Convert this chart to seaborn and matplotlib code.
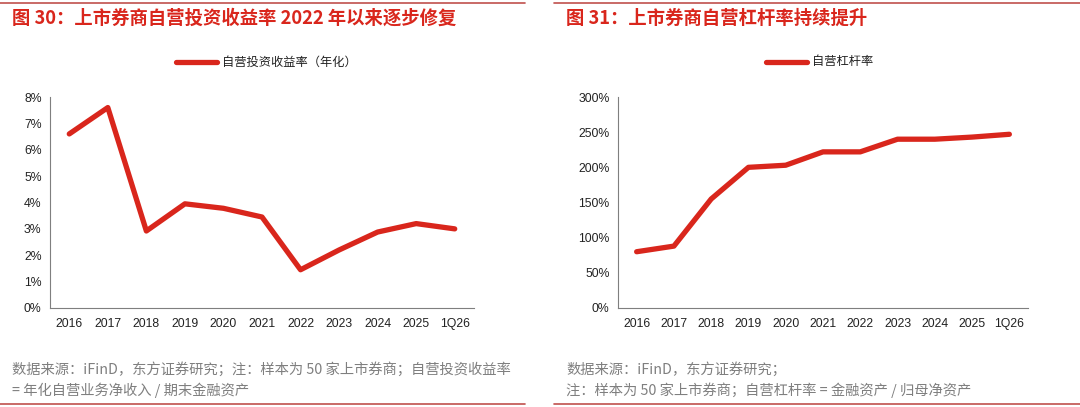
import numpy as np
import pandas as pd
import matplotlib
matplotlib.use('Agg')
import matplotlib.pyplot as plt
import seaborn as sns
from matplotlib.lines import Line2D
from matplotlib.ticker import FuncFormatter

# data
periods = ['2016', '2017', '2018', '2019', '2020', '2021', '2022', '2023', '2024', '2025', '1Q26']
invest_yield = [6.6, 7.6, 2.92, 3.95, 3.78, 3.45, 1.45, 2.2, 2.88, 3.2, 3.0]        # %
leverage = [80, 88, 155, 200, 203, 222, 222, 240, 240, 243, 247]                    # %

title_l = '图 30：上市券商自营投资收益率 2022 年以来逐步修复'
title_r = '图 31：上市券商自营杠杆率持续提升'
legend_l = '自营投资收益率（年化）'
legend_r = '自营杠杆率'
note_l = ['数据来源：iFinD，东方证券研究；注：样本为 50 家上市券商；自营投资收益率',
          '= 年化自营业务净收入 / 期末金融资产']
note_r = ['数据来源：iFinD，东方证券研究；',
          '注：样本为 50 家上市券商；自营杠杆率 = 金融资产 / 归母净资产']

sns.set_theme(style='white')
plt.rcParams['font.family'] = ['Noto Sans CJK SC', 'DejaVu Sans']
NUMFONT = ['Liberation Sans', 'Noto Sans CJK SC']

RED = '#d9261c'
RED_LINE = '#c0504d'
W, H = 1080, 407
fig = plt.figure(figsize=(W / 100, H / 100), dpi=100)
fig.patch.set_facecolor('white')


def panel(x0, x1, vals, ymax, step, title, leg, notes, tx, lx, rule):
    ax = fig.add_axes([x0 / W, (H - 308) / H, (x1 - x0) / W, 211 / H])
    df = pd.DataFrame({'period': periods, 'val': vals})
    df['pos'] = np.arange(len(df))
    sns.lineplot(data=df, x='pos', y='val', ax=ax, color=RED, linewidth=3.8,
                 solid_capstyle='round', solid_joinstyle='round')
    ax.set_xlim(-0.5, len(periods) - 0.5)
    ax.set_ylim(0, ymax)
    ax.set_yticks(np.arange(0, ymax + step / 2, step))
    ax.yaxis.set_major_formatter(FuncFormatter(lambda v, p: f'{v:.0f}%'))
    ax.set_xticks(np.arange(len(periods)))
    ax.set_xticklabels(periods)
    ax.set_xticks(np.arange(-0.5, len(periods)), minor=True)
    ax.tick_params(axis='x', which='major', length=0, pad=7, labelsize=8.8, colors='#222222')
    ax.tick_params(axis='x', which='minor', length=4, width=0.8, color='#7f7f7f', direction='out')
    ax.tick_params(axis='y', length=0, pad=6, labelsize=8.8, colors='#222222')
    for lab in ax.get_xticklabels() + ax.get_yticklabels():
        lab.set_family(NUMFONT)
    ax.set_xlabel('')
    ax.set_ylabel('')
    for s in ['top', 'right']:
        ax.spines[s].set_visible(False)
    for s in ['left', 'bottom']:
        ax.spines[s].set_color('#7f7f7f')
        ax.spines[s].set_linewidth(0.8)
    ax.grid(False)

    # legend drawn above the plot
    fig.add_artist(Line2D([lx / W, (lx + 41) / W], [1 - 62 / H] * 2, color=RED,
                          linewidth=3.8, solid_capstyle='round'))
    fig.text((lx + 46) / W, 1 - 62 / H, leg, fontsize=8.8, va='center', color='#222222')

    fig.text(tx / W, 1 - 18 / H, title, fontsize=13.2, fontweight='bold', color=RED, va='center')
    fig.add_artist(Line2D([rule[0] / W, rule[1] / W], [1 - 3 / H] * 2, color=RED_LINE, linewidth=1.2))
    fig.add_artist(Line2D([rule[0] / W, rule[1] / W], [1 - 404 / H] * 2, color=RED_LINE, linewidth=1.2))
    for i, t in enumerate(notes):
        fig.text(tx / W, 1 - (369 + 21 * i) / H, t, fontsize=10.3, color='#7f7f7f', va='center')
    return ax


panel(50, 474, invest_yield, 8, 1, title_l, legend_l, note_l, 12, 176, (0, 525))
panel(618, 1028, leverage, 300, 50, title_r, legend_r, note_r, 566, 766, (554, 1080))

fig.savefig('out.png', dpi=100)
